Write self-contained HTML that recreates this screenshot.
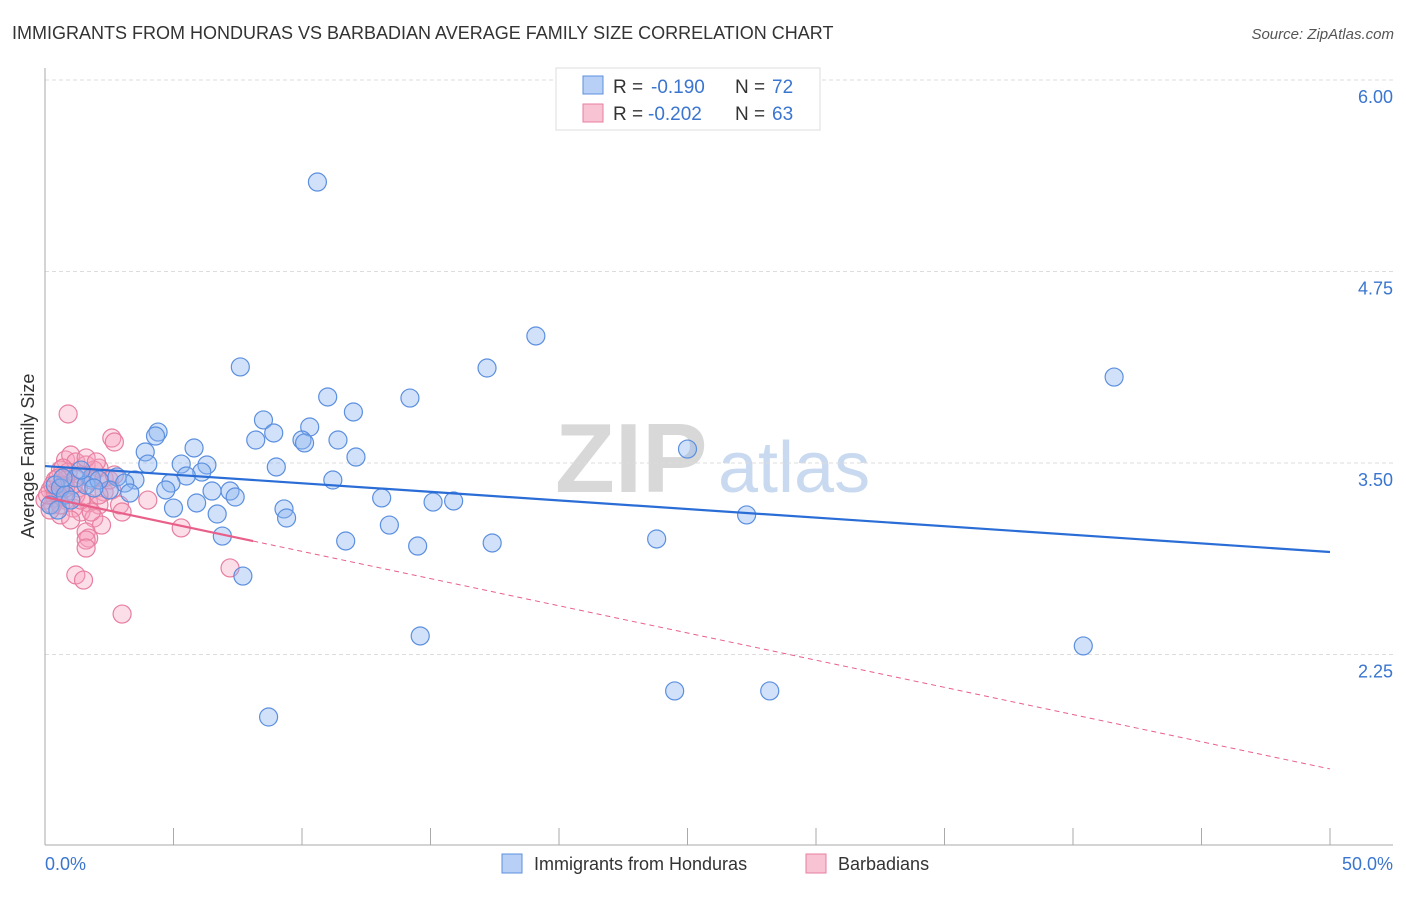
<!DOCTYPE html>
<html><head><meta charset="utf-8"><style>
body{margin:0;background:#fff;font-family:"Liberation Sans",sans-serif}
svg text{font-family:"Liberation Sans",sans-serif}
</style></head><body>
<svg width="1406" height="892" viewBox="0 0 1406 892">
<text x="12" y="39" font-size="18" fill="#333">IMMIGRANTS FROM HONDURAS VS BARBADIAN AVERAGE FAMILY SIZE CORRELATION CHART</text>
<text x="1394" y="39" font-size="15" fill="#555" font-style="italic" text-anchor="end">Source: ZipAtlas.com</text>
<g>
<text x="555" y="492" font-size="98" font-family="Liberation Serif" fill="#d8d8d8" font-weight="bold">ZIP</text>
<text x="718" y="492" font-size="72" fill="#c9daf0">atlas</text></g>
<g id="grid"></g>
<line x1="45" y1="68" x2="45" y2="845" stroke="#aaa"/>
<line x1="45" y1="845" x2="1393" y2="845" stroke="#aaa"/>
<g id="xt"></g>
<text transform="translate(34,456) rotate(-90)" font-size="18" fill="#333" text-anchor="middle">Average Family Size</text>
<text x="45" y="870" font-size="18" fill="#3a75d0">0.0%</text>
<text x="1393" y="870" font-size="18" fill="#3a75d0" text-anchor="end">50.0%</text>
<g id="pts"></g>
<g id="trend"></g>
<g>
<rect x="556" y="68" width="264" height="62" fill="#fff" stroke="#ddd"/>
<rect x="583" y="76" width="20" height="18" fill="#b8d0f5" stroke="#5b8fdf"/>
<rect x="583" y="104" width="20" height="18" fill="#f8c4d4" stroke="#e87ea0"/>
<text x="613" y="93" font-size="19" fill="#333">R =</text>
<text x="651" y="93" font-size="19" fill="#3a75d0">-0.190</text>
<text x="735" y="93" font-size="19" fill="#333">N =</text>
<text x="772" y="93" font-size="19" fill="#3a75d0">72</text>
<text x="613" y="120" font-size="19" fill="#333">R =</text>
<text x="648" y="120" font-size="19" fill="#3a75d0">-0.202</text>
<text x="735" y="120" font-size="19" fill="#333">N =</text>
<text x="772" y="120" font-size="19" fill="#3a75d0">63</text>
</g>
<g>
<rect x="502" y="854" width="20" height="19" fill="#b8d0f5" stroke="#5b8fdf"/>
<text x="534" y="870" font-size="18" fill="#333">Immigrants from Honduras</text>
<rect x="806" y="854" width="20" height="19" fill="#f8c4d4" stroke="#e87ea0"/>
<text x="838" y="870" font-size="18" fill="#333">Barbadians</text>
</g>
</svg>
<script>
const yTicks=[6.00,4.75,3.50,2.25];
const yTickLabels=["6.00","4.75","3.50","2.25"];
const xTicks=[0,5,10,15,20,25,30,35,40,45,50];
const blueX=[10.6,19.1,7.6,17.2,41.6,11.0,14.2,12.0,8.5,10.3,8.9,4.4,4.3,8.2,10.0,10.1,11.4,5.8,3.9,25.0,12.1,4.0,5.3,6.3,9.0,6.1,5.5,11.2,2.8,1.8,3.5,4.9,3.1,2.5,4.7,3.3,7.2,6.5,7.4,13.1,15.1,15.9,5.9,5.0,9.3,6.7,9.4,27.3,13.4,6.9,11.7,14.5,17.4,23.8,7.7,14.6,40.4,24.5,28.2,8.7,0.4,0.6,0.8,0.2,1.2,1.6,2.1,0.5,1.4,1.9,1.0,0.7];
const blueY=[5.334,4.329,4.127,4.120,4.061,3.931,3.924,3.833,3.781,3.735,3.696,3.702,3.676,3.650,3.650,3.631,3.650,3.598,3.572,3.591,3.539,3.493,3.493,3.487,3.474,3.441,3.415,3.389,3.409,3.402,3.389,3.369,3.369,3.324,3.324,3.304,3.317,3.317,3.278,3.272,3.245,3.252,3.239,3.206,3.200,3.167,3.141,3.161,3.095,3.023,2.991,2.958,2.978,3.004,2.762,2.371,2.306,2.012,2.012,1.842,3.356,3.337,3.291,3.226,3.402,3.356,3.389,3.193,3.454,3.337,3.258,3.402];
const pinkX=[0.9,2.6,2.7,0.8,1.0,1.2,1.6,2.1,0.6,0.9,1.4,0.4,1.8,0.7,1.3,0.2,0.5,2.3,2.6,0.8,1.7,0.3,1.1,2.1,2.9,1.4,0.6,1.9,3.0,4.0,1.0,2.2,1.6,1.7,1.6,1.6,5.3,7.2,1.2,1.5,3.0,0.4,0.6,0.0,0.2,0.8,1.2,1.9,2.3,0.4,0.7,2.5,1.4,1.8,0.1,0.8,0.5,1.1,2.1,2.7,0.3,1.6,2.0];
const pinkY=[3.820,3.663,3.637,3.520,3.552,3.507,3.487,3.467,3.454,3.441,3.422,3.389,3.389,3.356,3.337,3.324,3.291,3.311,3.324,3.258,3.239,3.226,3.206,3.226,3.226,3.180,3.161,3.141,3.180,3.258,3.128,3.095,3.050,3.010,2.997,2.945,3.076,2.815,2.769,2.736,2.514,3.272,3.226,3.258,3.193,3.389,3.291,3.454,3.402,3.311,3.467,3.389,3.258,3.180,3.291,3.337,3.402,3.356,3.291,3.422,3.356,3.533,3.507];
const blueTrend=[3.480,2.919];
const pinkTrend=[3.278,1.503];
const pinkSolidEnd=8.1;
const NS="http://www.w3.org/2000/svg";
const X=p=>45+p*25.7, Y=v=>80+(6-v)*153.2;
function mk(t,a,par){const e=document.createElementNS(NS,t);for(const k in a)e.setAttribute(k,a[k]);document.getElementById(par).appendChild(e);return e;}
yTicks.forEach((v,i)=>{
 const l=mk('line',{x1:45,x2:1393,y1:Y(v),y2:Y(v),stroke:'#ddd','stroke-dasharray':'4,3'},'grid');
 
 
 const t=mk('text',{x:1393,y:Y(v)+23,'font-size':18,fill:'#3a75d0','text-anchor':'end'},'grid');
 t.textContent=yTickLabels[i];
 
 
});
xTicks.forEach(p=>{
 const l=mk('line',{x1:X(p),x2:X(p),y1:828,y2:845,stroke:'#aaa'},'xt');
 
 
});
function pts(xs,ys,f,s,name){xs.forEach((x,i)=>{
 const c=mk('circle',{cx:X(x),cy:Y(ys[i]),r:9,fill:f,stroke:s,'stroke-width':1.2},'pts');
 
 
});}
pts(pinkX,pinkY,'rgba(245,160,190,0.35)','#e87ea0','barbadian-point');
pts(blueX,blueY,'rgba(140,180,240,0.4)','#5b8fdf','honduras-point');
const bl=mk('line',{x1:X(0),y1:Y(blueTrend[0]),x2:X(50),y2:Y(blueTrend[1]),stroke:'#2a6dd6','stroke-width':2.2},'trend');


const pv=p=>pinkTrend[0]+(pinkTrend[1]-pinkTrend[0])*p/50;
const ps=mk('line',{x1:X(0),y1:Y(pv(0)),x2:X(pinkSolidEnd),y2:Y(pv(pinkSolidEnd)),stroke:'#e8608a','stroke-width':2.2},'trend');


const pd=mk('line',{x1:X(pinkSolidEnd),y1:Y(pv(pinkSolidEnd)),x2:X(50),y2:Y(pv(50)),stroke:'#e8608a','stroke-width':1,'stroke-dasharray':'5,4'},'trend');


</script>
</body></html>
